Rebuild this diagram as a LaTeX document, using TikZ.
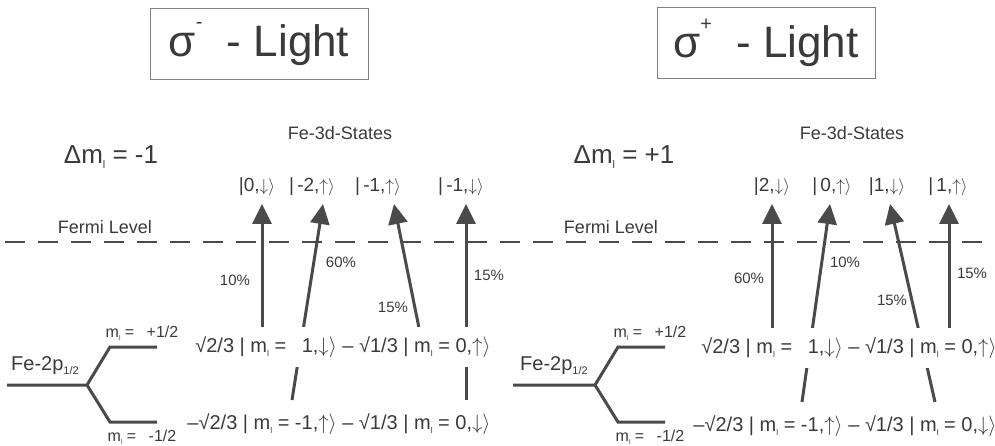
\documentclass[tikz,border=0pt]{standalone}
\usepackage{fontspec}
\setmainfont{Liberation Sans}
\usetikzlibrary{arrows.meta}
\definecolor{ink}{HTML}{3A3A3A}
\definecolor{linegray}{HTML}{4A4A4A}
\definecolor{boxgray}{HTML}{808080}
% tiny subscript l of m_l and small raised sign
\newcommand{\mlsub}{m\raisebox{-0.35ex}{\scalebox{0.42}{l}}}
\newcommand{\upsign}[1]{\raisebox{0.62em}{\scalebox{0.45}{#1}}}
\newcommand{\dn}{$\downarrow$}
\newcommand{\up}{$\uparrow$}

\begin{document}
\begin{tikzpicture}[x=1pt, y=-1pt,
  every node/.style={text=ink, inner sep=1pt},
  titlebox/.style={draw=boxgray, line width=0.8pt, minimum width=218pt, minimum height=71pt, font=\fontsize{44}{48}\selectfont},
  bigtext/.style={font=\fontsize{26}{30}\selectfont},
  midtext/.style={font=\fontsize{18}{22}\selectfont},
  statetext/.style={font=\fontsize{19}{23}\selectfont},
  kettext/.style={font=\fontsize{20}{24}\selectfont},
  small/.style={font=\fontsize{16}{19}\selectfont},
  pct/.style={font=\fontsize{15}{18}\selectfont},
  trans/.style={draw=linegray, line width=3pt, -{Triangle[length=20pt,width=19pt]}},
  level/.style={draw=linegray, line width=3pt},
  fermi/.style={draw=linegray, line width=2.5pt, dash pattern=on 20pt off 13pt}]
\useasboundingbox (0,0) rectangle (995,446);

% Fermi level
\coordinate (fermiA) at (5,242);
\coordinate (fermiB) at (995,242);
\draw[fermi] (fermiA) -- (fermiB);

% ---- sigma minus ----
\node[titlebox] (sigminus) at (259,44) {σ\upsign{-}\; - Light};
\node[bigtext] (dmminus) at (111,157) {Δ\mlsub\ = -1};
\node[midtext] (statesminus) at (340,133) {Fe-3d-States};
\node[midtext] (fermiminus) at (105,227) {Fermi Level};
\node[statetext] (dm1) at (257,187) {|0,\dn$\rangle$};
\node[statetext] (dm2) at (312,187) {|\,-2,\up$\rangle$};
\node[statetext] (dm3) at (378,187) {|\,-1,\up$\rangle$};
\node[statetext] (dm4) at (461,187) {|\,-1,\dn$\rangle$};

% core level splitting
\coordinate (pm0) at (7,385);
\coordinate (pm1) at (87,385);
\coordinate (pmup) at (110,347);
\coordinate (pmupend) at (157,347);
\coordinate (pmdn) at (110,422);
\coordinate (pmdnend) at (157,422);
\draw[level] (pm0) -- (pm1) -- (pmup) -- (pmupend);
\draw[level] (pm1) -- (pmdn) -- (pmdnend);
\node[font=\fontsize{20}{24}\selectfont] (pminus) at (45,366) {Fe-2p\raisebox{-0.3ex}{\scalebox{0.55}{1/2}}};
\node[small] (mupminus) at (142,333) {\mlsub\ = \enspace+1/2};
\node[small] (mdnminus) at (142,437) {\mlsub\ = \enspace-1/2};

% transitions
\coordinate (sm1) at (262,328);
\coordinate (sm2) at (292,400);
\coordinate (sm3) at (419,328);
\coordinate (sm4) at (466,400);
\coordinate (tm1) at (262,204);
\coordinate (tm2) at (323,204);
\coordinate (tm3) at (394,204);
\coordinate (tm4) at (466,204);
\draw[trans] (sm1) -- (tm1);
\draw[trans] (sm2) -- (tm2);
\draw[trans] (sm3) -- (tm3);
\draw[trans] (sm4) -- (tm4);
\node[pct] (pm10) at (235,280) {10\%};
\node[pct] (pm60) at (341,262) {60\%};
\node[pct] (pm15a) at (393,307) {15\%};
\node[pct] (pm15b) at (489,275) {15\%};

\node[kettext, fill=white, inner ysep=9pt] (ketupminus) at (343,347) {√2/3 | \mlsub\ = \enspace1,\dn$\rangle$ – √1/3 | \mlsub\ = 0,\up$\rangle$};
\node[kettext] (ketdnminus) at (339,424) {–√2/3 | \mlsub\ = -1,\up$\rangle$ – √1/3 | \mlsub\ = 0,\dn$\rangle$};

% ---- sigma plus ----
\node[titlebox] (sigplus) at (766,43) {σ\upsign{+}\; - Light};
\node[bigtext] (dmplus) at (624,157) {Δ\mlsub\ = +1};
\node[midtext] (statesplus) at (852,133) {Fe-3d-States};
\node[midtext] (fermiplus) at (611,227) {Fermi Level};
\node[statetext] (dp1) at (772,187) {|2,\dn$\rangle$};
\node[statetext] (dp2) at (832,187) {|\,0,\up$\rangle$};
\node[statetext] (dp3) at (887,187) {|1,\dn$\rangle$};
\node[statetext] (dp4) at (948,187) {|\,1,\up$\rangle$};

% core level splitting
\coordinate (pp0) at (513,385);
\coordinate (pp1) at (595,385);
\coordinate (ppup) at (618,347);
\coordinate (ppupend) at (665,347);
\coordinate (ppdn) at (618,422);
\coordinate (ppdnend) at (665,422);
\draw[level] (pp0) -- (pp1) -- (ppup) -- (ppupend);
\draw[level] (pp1) -- (ppdn) -- (ppdnend);
\node[font=\fontsize{20}{24}\selectfont] (pplus) at (554,366) {Fe-2p\raisebox{-0.3ex}{\scalebox{0.55}{1/2}}};
\node[small] (mupplus) at (650,333) {\mlsub\ = \enspace+1/2};
\node[small] (mdnplus) at (650,437) {\mlsub\ = \enspace-1/2};

% transitions
\coordinate (sp1) at (772,328);
\coordinate (sp2) at (802,402);
\coordinate (sp3) at (935,402);
\coordinate (sp4) at (949,328);
\coordinate (tp1) at (772,204);
\coordinate (tp2) at (830,204);
\coordinate (tp3) at (890,204);
\coordinate (tp4) at (949,204);
\draw[trans] (sp1) -- (tp1);
\draw[trans] (sp2) -- (tp2);
\draw[trans] (sp3) -- (tp3);
\draw[trans] (sp4) -- (tp4);
\node[pct] (pp60) at (749,278) {60\%};
\node[pct] (pp10) at (845,262) {10\%};
\node[pct] (pp15a) at (892,300) {15\%};
\node[pct] (pp15b) at (972,273) {15\%};

\node[kettext, fill=white, inner ysep=9pt] (ketupplus) at (849,348) {√2/3 | \mlsub\ = \enspace1,\dn$\rangle$ – √1/3 | \mlsub\ = 0,\up$\rangle$};
\node[kettext] (ketdnplus) at (845,426) {–√2/3 | \mlsub\ = -1,\up$\rangle$ – √1/3 | \mlsub\ = 0,\dn$\rangle$};
\end{tikzpicture}
\end{document}
